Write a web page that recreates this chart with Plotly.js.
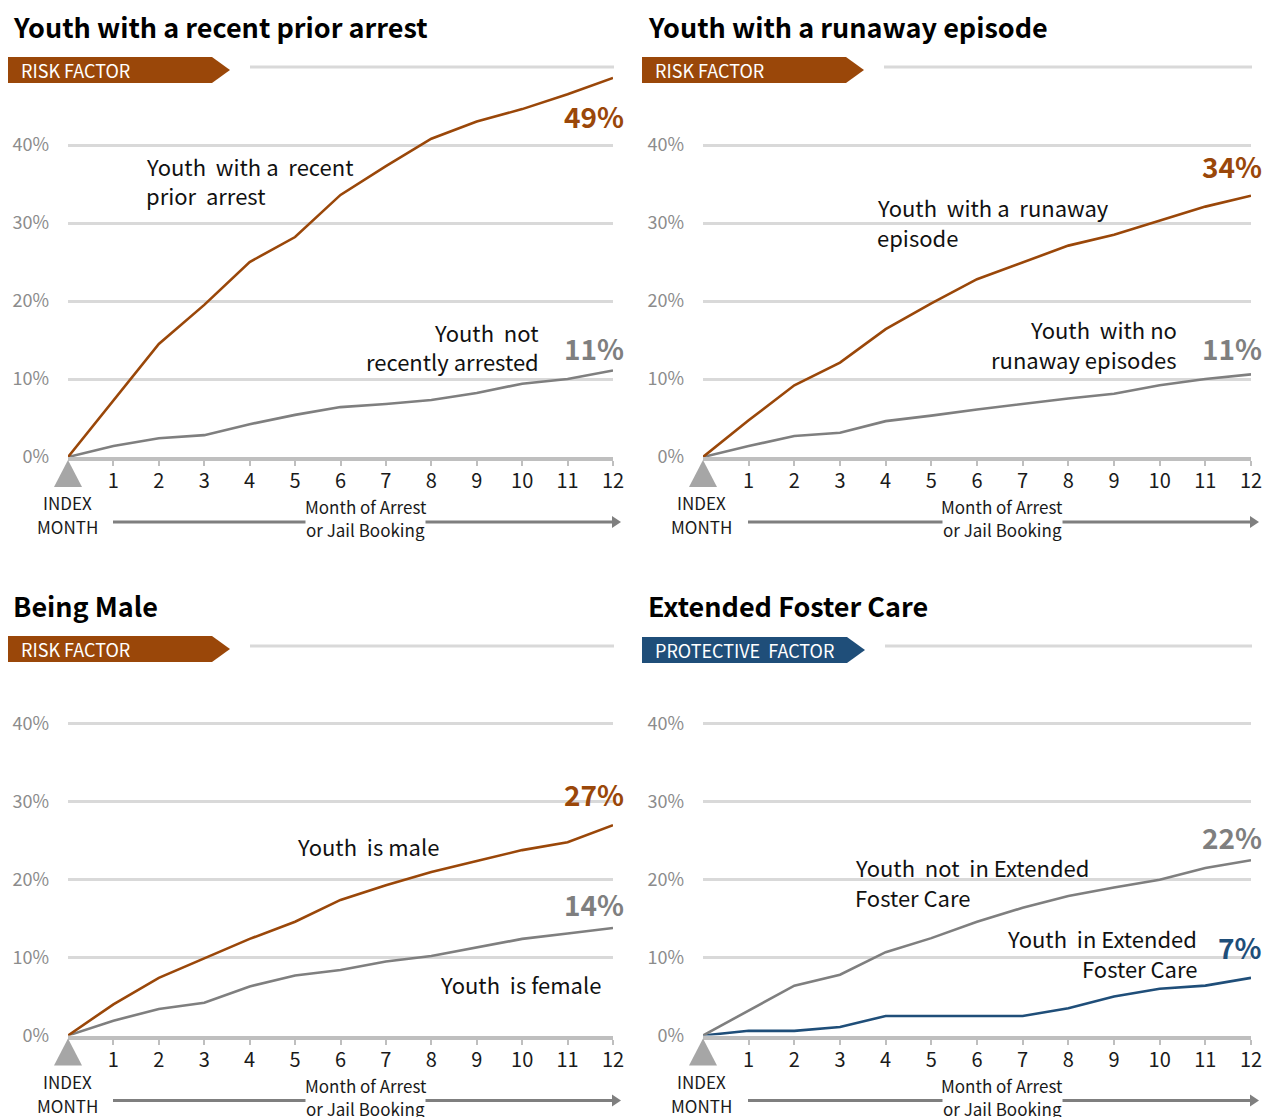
<!DOCTYPE html>
<html><head><meta charset="utf-8">
<script src="https://cdn.plot.ly/plotly-3.0.1.min.js"></script>
<style>html,body{margin:0;padding:0;background:#fff}#chart{width:1270px;height:1117px}</style>
</head><body><div id="chart"></div>
<script>
// ---------- DATA ----------
const months = [0,1,2,3,4,5,6,7,8,9,10,11,12];
const tickMonths = [1,2,3,4,5,6,7,8,9,10,11,12];
const yTicks = [0,10,20,30,40];
const yTickText = ['0%','10%','20%','30%','40%'];

const recentArrest        = [0, 7.3, 14.5, 19.5, 25.0, 28.2, 33.6, 37.3, 40.8, 43.0, 44.6, 46.5, 48.6];
const notRecentlyArrested = [0, 1.4, 2.4, 2.8, 4.2, 5.4, 6.4, 6.8, 7.3, 8.2, 9.4, 10.0, 11.1];
const runawayEpisode      = [0, 4.7, 9.2, 12.1, 16.4, 19.7, 22.8, 25.0, 27.1, 28.5, 30.3, 32.1, 33.5];
const noRunaway           = [0, 1.4, 2.7, 3.1, 4.6, 5.3, 6.1, 6.8, 7.5, 8.1, 9.2, 10.0, 10.6];
const youthMale           = [0, 4.0, 7.4, 9.9, 12.4, 14.6, 17.4, 19.3, 21.0, 22.4, 23.8, 24.8, 27.0];
const youthFemale         = [0, 1.9, 3.4, 4.2, 6.3, 7.7, 8.4, 9.5, 10.2, 11.3, 12.4, 13.1, 13.8];
const notExtendedFC       = [0, 3.2, 6.4, 7.8, 10.7, 12.5, 14.6, 16.4, 17.9, 19.0, 20.0, 21.5, 22.5];
const inExtendedFC        = [0, 0.6, 0.6, 1.1, 2.5, 2.5, 2.5, 2.5, 3.5, 5.0, 6.0, 6.4, 7.4];

const panelTitles = ['Youth with a recent prior arrest','Youth with a runaway episode','Being Male','Extended Foster Care'];
const tagLabels   = ['RISK FACTOR','RISK FACTOR','RISK FACTOR','PROTECTIVE  FACTOR'];
const seriesLabels = [
  [['Youth  with a  recent', 'prior  arrest'], ['Youth  not', 'recently arrested']],
  [['Youth  with a  runaway', 'episode'], ['Youth  with no', 'runaway episodes']],
  [['Youth  is male'], ['Youth  is female']],
  [['Youth  not  in Extended', 'Foster Care'], ['Youth  in Extended', 'Foster Care']]
];
const endLabels = [['49%','11%'],['34%','11%'],['27%','14%'],['22%','7%']];
const indexLines = ['INDEX', 'MONTH'];
const axisTitleLines = ['Month of Arrest', 'or Jail Booking'];

// ---------- STYLE / GEOMETRY ----------
const W = 1270, H = 1117;
const PX = x => x / W, PY = y => 1 - y / H;
const ORANGE = '#9A4709', GRAY = '#7F7F7F', BLUE = '#1F4E79';
const FONT = '"Noto Sans CJK KR", "Noto Sans", sans-serif';
const panels = [
  {x0:68,  x1:613,  y0:457,    yTop:67,  ttl:27,  tag:[57,83],  tagLine:67,  tagW:[8,212,230],   tagC:ORANGE},
  {x0:703, x1:1251, y0:457,    yTop:67,  ttl:27,  tag:[57,83],  tagLine:67,  tagW:[642,846,864], tagC:ORANGE},
  {x0:68,  x1:613,  y0:1035.5, yTop:646, ttl:606, tag:[636,662],tagLine:646, tagW:[8,212,230],   tagC:ORANGE},
  {x0:703, x1:1251, y0:1035.5, yTop:646, ttl:606, tag:[637,663],tagLine:646, tagW:[642,847,865], tagC:BLUE}
];
const seriesData = [
  [recentArrest, notRecentlyArrested, ORANGE, GRAY],
  [runawayEpisode, noRunaway, ORANGE, GRAY],
  [youthMale, youthFemale, ORANGE, GRAY],
  [notExtendedFC, inExtendedFC, GRAY, BLUE]
];
// label placements (pixel): x, first line center y, alignment
const seriesLabelPos = [
  [{x:145, y:166, a:'left'}, {x:540, y:332, a:'right'}],
  [{x:876, y:207, a:'left'}, {x:1178, y:329, a:'right'}],
  [{x:296, y:846, a:'left'}, {x:602, y:984, a:'right'}],
  [{x:854, y:867, a:'left'}, {x:1198, y:938, a:'right'}]
];
const LINE_GAP = 29.5;
const endLabelPos = [
  [{x:594, y:116}, {x:594, y:348}],
  [{x:1232, y:166}, {x:1232, y:348}],
  [{x:594, y:794}, {x:594, y:904}],
  [{x:1232, y:837}, {x:1240, y:947}]
];
const endLabelColor = [[ORANGE, GRAY],[ORANGE, GRAY],[ORANGE, GRAY],[GRAY, BLUE]];

const traces = [], annotations = [], shapes = [];
const layout = {
  width: W, height: H, margin: {l:0, r:0, t:0, b:0},
  paper_bgcolor: '#fff', plot_bgcolor: 'rgba(0,0,0,0)',
  showlegend: false, font: {family: FONT, color: '#1a1a1a'},
  annotations, shapes
};

function pathFrom(pts) {
  return 'M' + pts.map(p => PX(p[0]).toFixed(5) + ',' + PY(p[1]).toFixed(5)).join(' L') + ' Z';
}

panels.forEach((p, i) => {
  const n = i + 1, xs = n === 1 ? '' : n, ys = n === 1 ? '' : n;
  layout['xaxis' + xs] = {
    domain: [PX(p.x0), PX(p.x1)], range: [0, 12], anchor: 'y' + ys,
    tickvals: tickMonths, ticks: 'outside', ticklen: 5, tickwidth: 2, tickcolor: '#BFBFBF',
    showline: true, linecolor: '#BFBFBF', linewidth: 4, showgrid: false, zeroline: false,
    tickfont: {size: 20, color: '#1a1a1a', family: FONT}, fixedrange: true, ticklabelstandoff: -2
  };
  layout['yaxis' + ys] = {
    domain: [PY(p.y0), PY(p.yTop)], range: [0, 50], anchor: 'x' + xs,
    tickvals: yTicks, ticktext: yTickText, showgrid: true, gridcolor: '#D9D9D9', gridwidth: 3,
    zeroline: false, showline: false, ticks: '', ticklabelstandoff: 18,
    tickfont: {size: 18, color: '#8C8C8C', family: FONT}, fixedrange: true
  };
  const [a, b, ca, cb] = seriesData[i];
  [[b, cb], [a, ca]].forEach(([vals, col]) => traces.push({
    x: months, y: vals, type: 'scatter', mode: 'lines', xaxis: 'x' + xs, yaxis: 'y' + ys,
    line: {color: col, width: 2.6}, hoverinfo: 'skip', cliponaxis: false
  }));

  // title
  annotations.push({text: '<b>' + panelTitles[i] + '</b>', xref: 'paper', yref: 'paper',
    x: PX(p.x0 - 57), y: PY(p.ttl), xanchor: 'left', yanchor: 'middle', showarrow: false,
    font: {size: 27, color: '#000', family: FONT}});
  // tag
  const [t0, t1] = p.tag, [tx0, tx1, tx2] = p.tagW, tm = (t0 + t1) / 2;
  shapes.push({type: 'path', xref: 'paper', yref: 'paper', layer: 'above',
    path: pathFrom([[tx0, t0], [tx1, t0], [tx2, tm], [tx1, t1], [tx0, t1]]),
    fillcolor: p.tagC, line: {width: 0}});
  annotations.push({text: tagLabels[i], xref: 'paper', yref: 'paper', x: PX(tx0 + 11), y: PY(tm),
    xanchor: 'left', yanchor: 'middle', showarrow: false, font: {size: 18, color: '#fff', family: FONT}});
  shapes.push({type: 'line', xref: 'paper', yref: 'paper', x0: PX(tx2 + 20), x1: PX(p.x1 + 1),
    y0: PY(p.tagLine), y1: PY(p.tagLine), line: {color: '#D9D9D9', width: 3}});

  // series labels (one annotation per text line)
  seriesLabelPos[i].forEach((lp, k) => seriesLabels[i][k].forEach((line, j) => annotations.push({
    text: line, xref: 'paper', yref: 'paper',
    x: PX(lp.x), y: PY(lp.y + j * LINE_GAP), xanchor: lp.a, yanchor: 'middle', align: lp.a, showarrow: false,
    borderpad: 0, font: {size: 22, color: '#111', family: FONT}})));
  // end labels
  endLabelPos[i].forEach((lp, k) => annotations.push({text: '<b>' + endLabels[i][k] + '</b>', xref: 'paper', yref: 'paper',
    x: PX(lp.x), y: PY(lp.y), xanchor: 'center', yanchor: 'middle', showarrow: false,
    font: {size: 28, color: endLabelColor[i][k], family: FONT}}));

  // index triangle
  const bx = p.x0, by = p.y0;
  shapes.push({type: 'path', xref: 'paper', yref: 'paper', layer: 'above',
    path: pathFrom([[bx, by + 3], [bx + 14, by + 30], [bx - 14, by + 30]]), fillcolor: '#A6A6A6', line: {width: 0}});
  indexLines.forEach((t, j) => annotations.push({text: t, xref: 'paper', yref: 'paper',
    x: PX(bx - 1), y: PY(by + 46 + j * 23.5), xanchor: 'center', yanchor: 'middle', showarrow: false,
    borderpad: 0, font: {size: 17, color: '#1a1a1a', family: FONT}}));
  // arrow
  const ay = by + 65;
  shapes.push({type: 'line', xref: 'paper', yref: 'paper', x0: PX(bx + 45), x1: PX(p.x1 + 1),
    y0: PY(ay), y1: PY(ay), line: {color: '#7F7F7F', width: 3}});
  shapes.push({type: 'path', xref: 'paper', yref: 'paper',
    path: pathFrom([[p.x1 - 1, ay - 6], [p.x1 + 8, ay], [p.x1 - 1, ay + 6]]), fillcolor: '#7F7F7F', line: {width: 0}});
  axisTitleLines.forEach((t, j) => annotations.push({text: t, xref: 'paper', yref: 'paper',
    x: PX((p.x0 + p.x1) / 2 + 25), y: PY(by + 50 + j * 22.5), xanchor: 'center', yanchor: 'middle', showarrow: false,
    bgcolor: '#fff', borderpad: 0, font: {size: 17, color: '#1a1a1a', family: FONT}}));
});

// gridline masks (between gridlines and traces)
function mask(x0, x1, yc, op) {
  shapes.push({type: 'rect', xref: 'paper', yref: 'paper', layer: 'between',
    x0: PX(x0), x1: PX(x1), y0: PY(yc + 4), y1: PY(yc - 4), fillcolor: '#fff', opacity: op, line: {width: 0}});
}
mask(1198, 1256, 145, 1);
mask(566, 620, 801.8, 1);
mask(990, 1205, 957.6, 1);
mask(1213, 1256, 957.6, 1);
mask(853, 1102, 879.7, 0.55);
mask(875, 1113, 223, 0.55);

Plotly.newPlot('chart', traces, layout, {staticPlot: true});
</script></body></html>
